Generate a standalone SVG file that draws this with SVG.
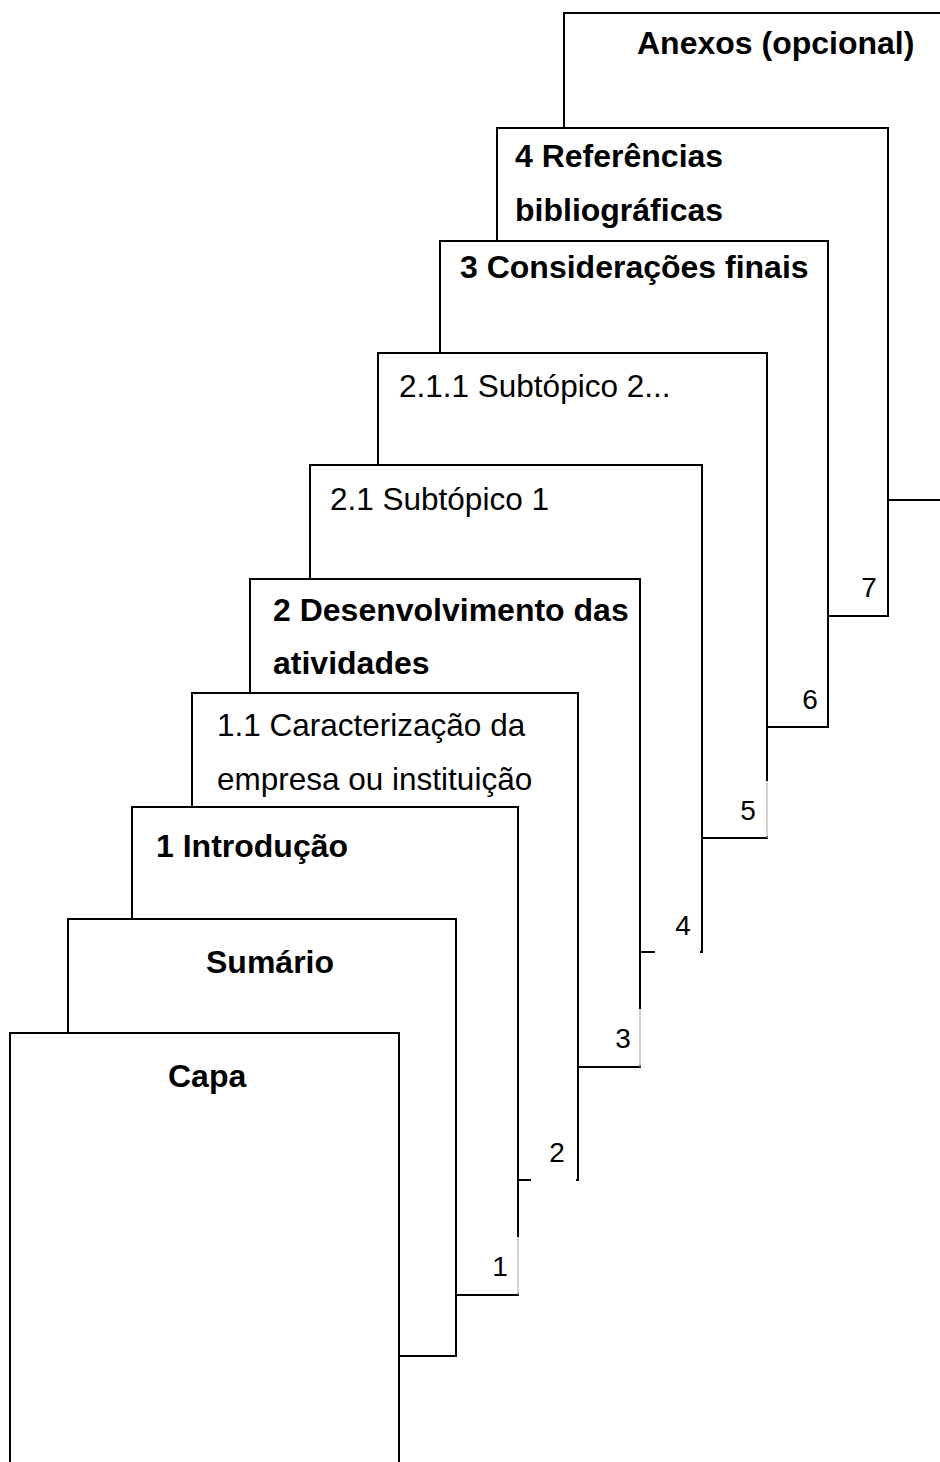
<svg xmlns="http://www.w3.org/2000/svg" width="940" height="1462" viewBox="0 0 940 1462">
<style>
.page{fill:#fff;stroke:#000;stroke-width:2}
.cover{fill:#fff;stroke:none}
.edge{stroke:#b4b4b4;stroke-width:1.2;fill:none}
.b{font-family:"Liberation Sans",Arial,sans-serif;font-weight:bold;font-size:32px;fill:#000}
.r{font-family:"Liberation Sans",Arial,sans-serif;font-size:31.5px;fill:#000}
.n{font-family:"Liberation Sans",Arial,sans-serif;font-size:28px;fill:#000;text-anchor:middle}
</style>
<rect width="940" height="1462" fill="#fff"/>
<g id="page-anexos">
<rect class="page" x="564" y="13" width="400" height="487"/>
<text class="b" x="637" y="54">Anexos (opcional)</text>
</g>
<g id="page-referencias">
<rect class="page" x="497" y="128" width="391" height="488"/>
<text class="b" x="515" y="167">4 Referências</text>
<text class="b" x="515" y="221">bibliográficas</text>
<text class="n" x="869" y="597">7</text>
</g>
<g id="page-consideracoes">
<rect class="page" x="440" y="241" width="388" height="486"/>
<text class="b" x="460" y="278">3 Considerações finais</text>
<text class="n" x="810" y="709">6</text>
</g>
<g id="page-subtopico2">
<rect class="page" x="378" y="353" width="389" height="485"/>
<text class="r" x="399" y="397">2.1.1 Subtópico 2...</text>
<rect class="cover" x="725" y="781" width="44" height="55"/>
<line class="edge" x1="767" y1="781" x2="767" y2="838"/>
<text class="n" x="748" y="820">5</text>
</g>
<g id="page-subtopico1">
<rect class="page" x="310" y="465" width="392" height="487"/>
<text class="r" x="330" y="510">2.1 Subtópico 1</text>
<rect class="cover" x="655" y="946" width="45" height="10"/>
<text class="n" x="683" y="935">4</text>
</g>
<g id="page-desenvolvimento">
<rect class="page" x="250" y="579" width="390" height="488"/>
<text class="b" x="273" y="621">2 Desenvolvimento das</text>
<text class="b" x="273" y="674">atividades</text>
<rect class="cover" x="600" y="1009" width="42" height="56"/>
<line class="edge" x1="640" y1="1009" x2="640" y2="1067"/>
<text class="n" x="623" y="1048">3</text>
</g>
<g id="page-caracterizacao">
<rect class="page" x="192" y="693" width="386" height="487"/>
<text class="r" x="217" y="736">1.1 Caracterização da</text>
<text class="r" x="217" y="790">empresa ou instituição</text>
<rect class="cover" x="531" y="1174" width="45" height="10"/>
<text class="n" x="557" y="1162">2</text>
</g>
<g id="page-introducao">
<rect class="page" x="132" y="807" width="386" height="488"/>
<text class="b" x="156" y="857">1 Introdução</text>
<rect class="cover" x="472" y="1237" width="48" height="56"/>
<line class="edge" x1="518" y1="1237" x2="518" y2="1295"/>
<text class="n" x="500" y="1276">1</text>
</g>
<g id="page-sumario">
<rect class="page" x="68" y="919" width="388" height="437"/>
<text class="b" x="206" y="973">Sumário</text>
</g>
<g id="page-capa">
<rect class="page" x="10" y="1033" width="389" height="440"/>
<text class="b" x="168" y="1087">Capa</text>
</g>
</svg>
